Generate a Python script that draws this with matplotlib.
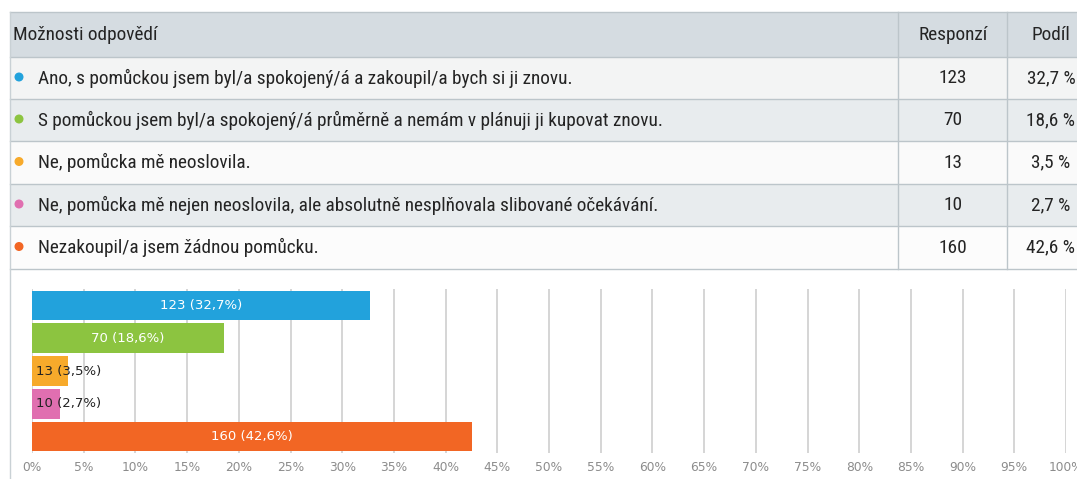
import matplotlib
matplotlib.use("Agg")
import matplotlib.pyplot as plt
from matplotlib.patches import Rectangle, Circle
from matplotlib import font_manager

# survey answers and counts
answers = [
    "Ano, s pomůckou jsem byl/a spokojený/á a zakoupil/a bych si ji znovu.",
    "S pomůckou jsem byl/a spokojený/á průměrně a nemám v plánuji ji kupovat znovu.",
    "Ne, pomůcka mě neoslovila.",
    "Ne, pomůcka mě nejen neoslovila, ale absolutně nesplňovala slibované očekávání.",
    "Nezakoupil/a jsem žádnou pomůcku.",
]
responses = [123, 70, 13, 10, 160]
shares = [32.7, 18.6, 3.5, 2.7, 42.6]
colors = ["#22a2dc", "#8cc440", "#f7aa2b", "#e06fb0", "#f26624"]
header = ["Možnosti odpovědí", "Responzí", "Podíl"]
ticks = list(range(0, 101, 5))

W, H = 1077, 479

# pick a narrow font for the table if one is installed
installed = {f.name for f in font_manager.fontManager.ttflist}
table_font = "DejaVu Sans"
table_size = 11.2
for name, size in [("Liberation Sans Narrow", 14.8), ("Roboto Condensed", 13.9),
                   ("Open Sans Condensed", 13.9), ("Roboto", 12.4)]:
    if name in installed:
        table_font, table_size = name, size
        break


def cz(v):
    return ("%.1f" % v).replace(".", ",")


fig = plt.figure(figsize=(W / 100, H / 100), dpi=100)
bg = fig.add_axes([0, 0, 1, 1])
bg.set_xlim(0, W)
bg.set_ylim(H, 0)
bg.axis("off")

# table rows
edges = [12, 57, 99, 141, 184, 226, 269]
fills = ["#d5dce1", "#f3f4f4", "#e8ecee", "#fafafa", "#e8ecee", "#fcfcfc"]
for i in range(6):
    bg.add_patch(Rectangle((10, edges[i]), W, edges[i + 1] - edges[i],
                           fc=fills[i], ec="none", zorder=1))
for y in edges:
    bg.plot([10, W], [y, y], color="#bcc5ca", lw=1, zorder=2)
bg.plot([10, 10], [edges[0], H], color="#c9d1d5", lw=1, zorder=2)
for x in [898, 1007]:
    bg.plot([x, x], [edges[0], edges[-1]], color="#bcc5ca", lw=1, zorder=2)

txt = dict(family=table_font, fontsize=table_size, color="#242424",
           va="center", zorder=3)
mid = [(edges[i] + edges[i + 1]) / 2 for i in range(6)]
bg.text(13, mid[0], header[0], ha="left", **txt)
bg.text(953, mid[0], header[1], ha="center", **txt)
bg.text(1051, mid[0], header[2], ha="center", **txt)
for i in range(5):
    y = mid[i + 1]
    bg.add_patch(Circle((19, y - 1), 3.8, color=colors[i], zorder=3))
    bg.text(38, y, answers[i], ha="left", **txt)
    bg.text(953, y, str(responses[i]), ha="center", **txt)
    bg.text(1051, y, cz(shares[i]) + " %", ha="center", **txt)

# bar chart
ax = fig.add_axes([32 / W, (H - 453) / H, (1066 - 32) / W, 164 / H])
ax.patch.set_alpha(0)
ax.barh(range(len(shares)), shares, height=0.9, color=colors, zorder=2)
ax.set_xlim(0, 100)
ax.set_ylim(len(shares) - 0.5, -0.5)
ax.set_xticks(ticks)
ax.set_xticklabels(["%d%%" % t for t in ticks], color="#8c8c8c", fontsize=8.8)
ax.set_yticks([])
ax.tick_params(axis="x", length=0, pad=6)
ax.grid(axis="x", color="#d2d2d2", lw=1.3, zorder=0)
ax.set_axisbelow(True)
for s in ax.spines.values():
    s.set_visible(False)

for i, (n, p) in enumerate(zip(responses, shares)):
    label = "%d (%s%%)" % (n, cz(p))
    if p > 10:
        ax.text(p / 2, i, label, ha="center", va="center", color="white",
                fontsize=9.5, zorder=3)
    else:
        ax.text(0.35, i, label, ha="left", va="center", color="#222222",
                fontsize=9.5, zorder=3)

fig.savefig("out.png", dpi=100, facecolor="white")
